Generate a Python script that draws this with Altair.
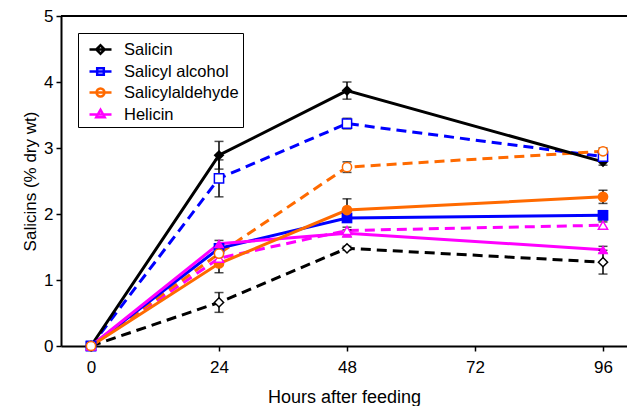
import altair as alt
import pandas as pd

hours = [0, 24, 48, 96]
compounds = ["Salicin", "Salicyl alcohol", "Salicylaldehyde", "Helicin"]
colors = ["#000000", "#0000FF", "#FF6A00", "#FF00FF"]
shapes = ["diamond", "square", "circle", "triangle-up"]

# solid lines / filled markers
salicin_solid = [0, 2.89, 3.87, 2.79]
alcohol_solid = [0, 1.48, 1.94, 1.98]
aldehyde_solid = [0, 1.25, 2.06, 2.26]
helicin_solid = [0, 1.55, 1.71, 1.46]
# dashed lines / open markers
salicin_dashed = [0, 0.66, 1.48, 1.27]
alcohol_dashed = [0, 2.54, 3.37, 2.87]
aldehyde_dashed = [0, 1.40, 2.71, 2.95]
helicin_dashed = [0, 1.33, 1.75, 1.83]
# error bars (+/-)
salicin_solid_err = [0, 0.21, 0.13, 0.05]
alcohol_solid_err = [0, 0.06, 0.06, 0.07]
aldehyde_solid_err = [0, 0.14, 0.17, 0.10]
helicin_solid_err = [0, 0.05, 0.05, 0.05]
salicin_dashed_err = [0, 0.15, 0.03, 0.18]
alcohol_dashed_err = [0, 0.28, 0.08, 0.05]
aldehyde_dashed_err = [0, 0.05, 0.08, 0.05]
helicin_dashed_err = [0, 0.05, 0.05, 0.05]

legend_paths = [
    "M-1,0L1,0M-0.38,0L0,-0.38L0.38,0L0,0.38Z",
    "M-1,0L1,0M-0.3,-0.3L0.3,-0.3L0.3,0.3L-0.3,0.3Z",
    "M-1,0L1,0M-0.36,0A0.36,0.36,0,1,1,0.36,0A0.36,0.36,0,1,1,-0.36,0Z",
    "M-1,0L1,0M-0.38,0.24L0,-0.42L0.38,0.24Z",
]

series = [
    ("Salicin", "solid", salicin_solid, salicin_solid_err),
    ("Salicyl alcohol", "solid", alcohol_solid, alcohol_solid_err),
    ("Helicin", "solid", helicin_solid, helicin_solid_err),
    ("Salicylaldehyde", "solid", aldehyde_solid, aldehyde_solid_err),
    ("Salicin", "dashed", salicin_dashed, salicin_dashed_err),
    ("Salicyl alcohol", "dashed", alcohol_dashed, alcohol_dashed_err),
    ("Helicin", "dashed", helicin_dashed, helicin_dashed_err),
    ("Salicylaldehyde", "dashed", aldehyde_dashed, aldehyde_dashed_err),
]

rows = []
for name, style, vals, errs in series:
    for h, v, e in zip(hours, vals, errs):
        rows.append({"compound": name, "style": style, "series": name + " " + style,
                     "hour": h, "value": v, "err": e, "lo": v - e, "hi": v + e})
df = pd.DataFrame(rows)
legend_df = pd.DataFrame({"label": compounds, "hour": [0] * 4, "value": [0] * 4})

FONT = "Liberation Sans"

x_enc = alt.X("hour:Q",
              scale=alt.Scale(domain=[-5.625, 100.5], nice=False, zero=False),
              axis=alt.Axis(values=[0, 24, 48, 72, 96], title="Hours after feeding",
                            titleFontSize=18, titlePadding=13))
y_enc = alt.Y("value:Q",
              scale=alt.Scale(domain=[0, 5], nice=False),
              axis=alt.Axis(values=[0, 1, 2, 3, 4, 5], format="d", title="Salicins (% dry wt)",
                            titlePadding=4))
color_enc = alt.Color("compound:N", scale=alt.Scale(domain=compounds, range=colors), legend=None)
shape_enc = alt.Shape("compound:N", scale=alt.Scale(domain=compounds, range=shapes), legend=None)

base = alt.Chart(df)

dashed_lines = base.transform_filter("datum.style == 'dashed'").mark_line(
    strokeWidth=3, strokeDash=[10, 6]).encode(x=x_enc, y=y_enc, color=color_enc, detail="series:N")
solid_lines = base.transform_filter("datum.style == 'solid'").mark_line(
    strokeWidth=3).encode(x=x_enc, y=y_enc, color=color_enc, detail="series:N")

err_base = base.transform_filter("datum.err > 0")
err_rules = err_base.mark_rule(color="black", strokeWidth=1.5).encode(
    x="hour:Q", y="lo:Q", y2="hi:Q")
cap_lo = err_base.mark_tick(color="black", orient="horizontal", size=9, thickness=1.5).encode(
    x="hour:Q", y="lo:Q")
cap_hi = err_base.mark_tick(color="black", orient="horizontal", size=9, thickness=1.5).encode(
    x="hour:Q", y="hi:Q")

solid_pts = base.transform_filter("datum.style == 'solid'").mark_point(
    filled=True, size=115, opacity=1).encode(x=x_enc, y=y_enc, color=color_enc, shape=shape_enc)
open_pts = base.transform_filter("datum.style == 'dashed'").mark_point(
    filled=False, fill="white", size=85, strokeWidth=1.5, opacity=1).encode(
    x=x_enc, y=y_enc, stroke=alt.Stroke("compound:N", scale=alt.Scale(domain=compounds, range=colors), legend=None),
    shape=shape_enc)

legend_layer = alt.Chart(legend_df).mark_point(opacity=0, filled=True).encode(
    x="hour:Q", y="value:Q",
    fill=alt.Fill("label:N", scale=alt.Scale(domain=compounds, range=colors),
                  legend=alt.Legend(title=None, orient="none", legendX=17, legendY=17,
                                    strokeColor="black", fillColor="white", padding=4,
                                    labelFont=FONT, labelFontSize=16.5, labelColor="black",
                                    symbolSize=484, symbolStrokeWidth=2.5, rowPadding=0,
                                    symbolOffset=6, labelOffset=11, symbolOpacity=1)),
    stroke=alt.Stroke("label:N", scale=alt.Scale(domain=compounds, range=colors)),
    shape=alt.Shape("label:N", scale=alt.Scale(domain=compounds, range=legend_paths)),
)

top_rule = alt.Chart(df).mark_rule(color="black", strokeWidth=2).encode(y=alt.datum(5))

chart = alt.layer(
    top_rule, dashed_lines, solid_lines, err_rules, cap_lo, cap_hi, solid_pts, open_pts, legend_layer
).resolve_scale(shape="independent", stroke="independent", fill="independent").properties(
    width=566, height=330,
    autosize=alt.AutoSizeParams(type="none"),
    padding={"left": 53, "top": 8, "right": 0, "bottom": 60},
).configure_view(stroke=None).configure_axis(
    grid=False, domainColor="black", domainWidth=2, tickColor="black", tickWidth=1.5,
    tickSize=5, labelFont=FONT, labelFontSize=17, labelColor="black",
    titleFont=FONT, titleFontSize=17, titleFontWeight="normal", titleColor="black",
).configure_axisY(labelPadding=3).configure_axisX(labelPadding=8)

chart.save("out.html", embed_options={"renderer": "svg", "actions": False})
